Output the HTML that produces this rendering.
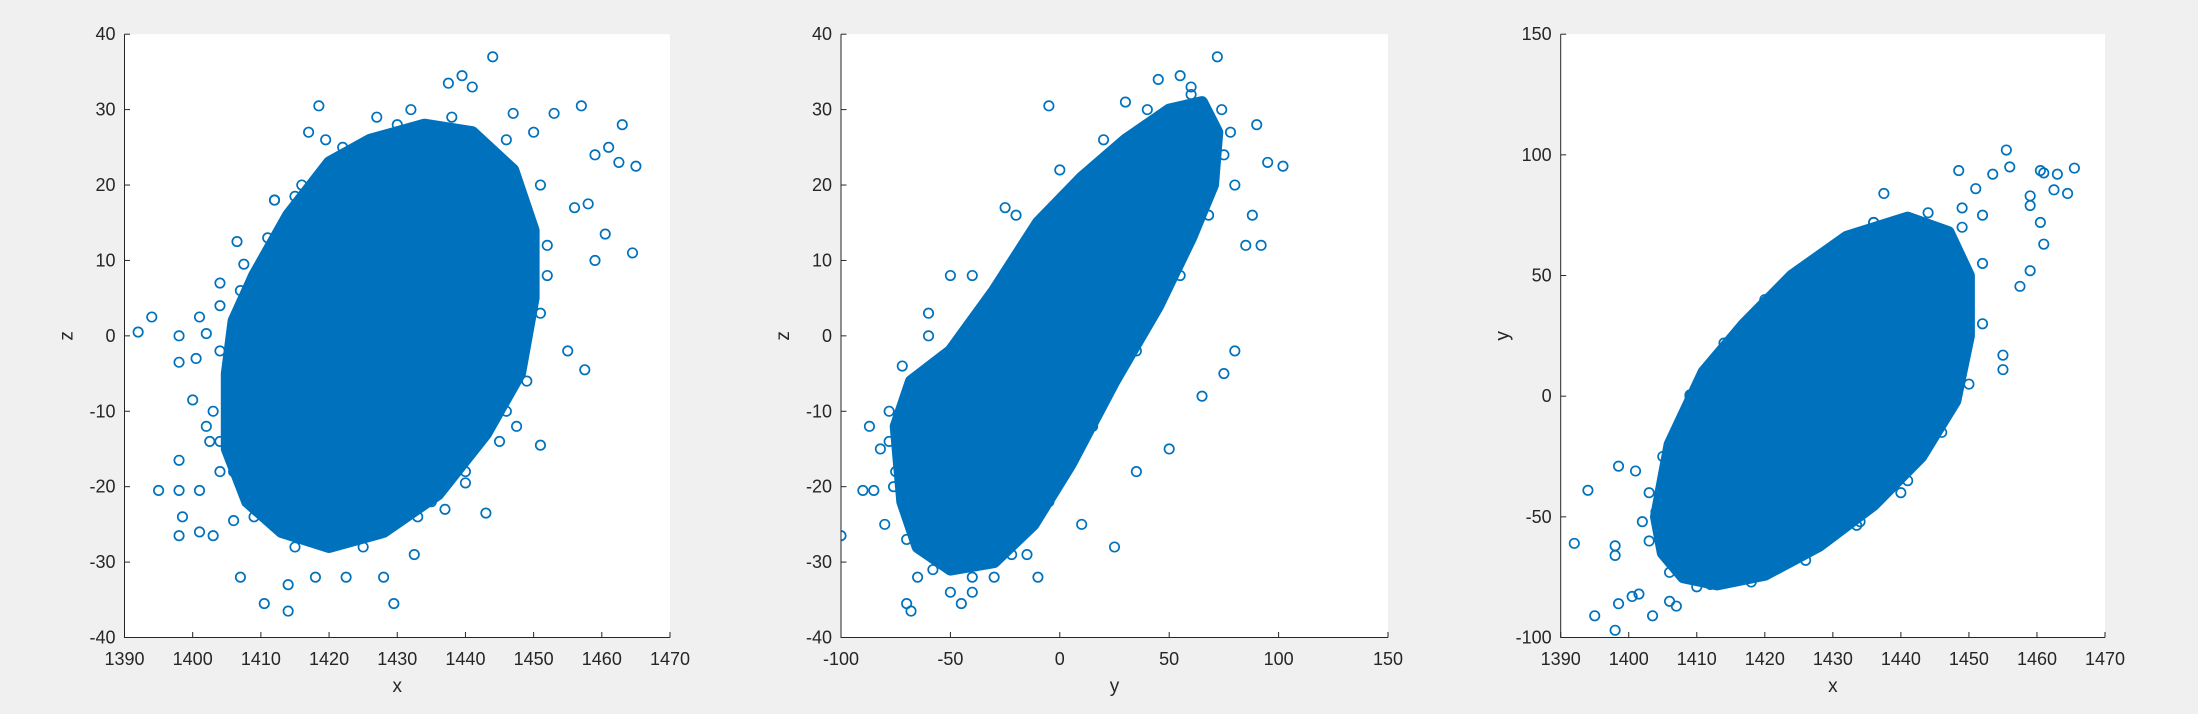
<!DOCTYPE html>
<html><head><meta charset="utf-8"><style>
html,body{margin:0;padding:0;background:#f0f0f0;}
svg{display:block;font-family:"Liberation Sans",sans-serif;}
</style></head><body>
<svg id="fig" width="2198" height="714" viewBox="0 0 2198 714" xmlns="http://www.w3.org/2000/svg">
<rect x="0" y="0" width="2198" height="714" fill="#f0f0f0"/>
</svg>
<script>
// ---- Panel 1: x vs z ----
const p1XTicks = [1390,1400,1410,1420,1430,1440,1450,1460,1470];
const p1YTicks = [-40,-30,-20,-10,0,10,20,30,40];
const p1CoreX = [1405,1405,1408,1413,1420,1428,1436,1443,1448,1450,1450,1447,1441,1434,1426,1420,1414,1409,1406];
const p1CoreY = [-5,-15,-22,-26,-28,-26,-21,-13,-5,5,14,22,27,28,26,23,16,8,2];
const p1X = [1392,1394,1398,1398,1400.5,1401,1402,1398,1395,1398,1401,1403,1407,1410.5,1414,1414,1418,1422.5,1428,1429.5,1432.5,1443,1451,1457.5,1455,1464.5,1459,1460.5,1465,1463,1457,1444,1439.5,1437.5,1441,1418.5,1417,1419.5,1406.5,1404,1407.5,1456,1458,1459,1461,1462.5,1398.5,1398,1401,1402,1400,1402.5,1404,1406,1447.5,1445,1440,1437,1435,1412,1415,1425,1432,1447,1450,1453,1405,1404,
1404,1405,1406,1409,1415,1425,1433,1440,1446,1449,1451,1452,1451,1446,1438,1430,1422,1416,1411,1407,1404,1403,1412,1427,1447,1452];
const p1Y = [0.5,2.5,0,-3.5,-3,2.5,0.3,-16.5,-20.5,-26.5,-26,-26.5,-32,-35.5,-36.5,-33,-32,-32,-32,-35.5,-29,-23.5,-14.5,-4.5,-2,11,10,13.5,22.5,28,30.5,37,34.5,33.5,33,30.5,27,26,12.5,7,9.5,17,17.5,24,25,23,-24,-20.5,-20.5,-12,-8.5,-14,-14,-24.5,-12,-14,-19.5,-23,-22,18,18.5,25.5,30,29.5,27,29.5,-5,-18,
4,-8,-18,-24,-28,-28,-24,-18,-10,-6,3,12,20,26,29,28,25,20,13,6,-2,-10,18,29,16,8];

// ---- Panel 2: y vs z ----
const p2XTicks = [-100,-50,0,50,100,150];
const p2YTicks = [-40,-30,-20,-10,0,10,20,30,40];
const p2CoreX = [-75,-72,-65,-50,-30,-12,5,25,45,60,70,72,65,50,30,10,-10,-30,-50,-68];
const p2CoreY = [-12,-22,-28,-31,-30,-25,-17,-6,4,13,20,27,31,30,26,21,15,6,-2,-6];
const p2X = [-100,-90,-85,-87,-75,-70,-68,-45,-30,-10,-55,72,55,45,90,95,102,92,85,80,75,50,35,-5,-25,-50,-60,25,10,-65,-80,-78,30,60,78,-40,-15,65,88,
-78,-76,-70,-58,-40,-22,-5,15,35,55,68,75,74,60,40,20,0,-20,-40,-60,-72,-82,80,-50];
const p2Y = [-26.5,-20.5,-20.5,-12,-18,-35.5,-36.5,-35.5,-32,-32,-27,37,34.5,34,28,23,22.5,12,12,-2,-5,-15,-18,30.5,17,8,3,-28,-25,-32,-25,-14,31,32,27,-34,-29,-8,16,
-10,-20,-27,-31,-32,-29,-22,-12,-2,8,16,24,30,33,30,26,22,16,8,0,-4,-15,20,-34];

// ---- Panel 3: x vs y ----
const p3XTicks = [1390,1400,1410,1420,1430,1440,1450,1460,1470];
const p3YTicks = [-100,-50,0,50,100,150];
const p3CoreX = [1404,1405,1408,1413,1420,1428,1436,1443,1448,1450,1450,1447,1441,1432,1424,1417,1411,1406];
const p3CoreY = [-50,-65,-75,-78,-74,-62,-45,-25,-2,25,50,68,74,66,50,30,10,-20];
const p3X = [1392,1394,1395,1398,1398.5,1398,1398,1398.5,1401,1400.5,1401.5,1403.5,1406,1407,1409,1409,1424,1433.5,1440,1442,1437.5,1448.5,1455.5,1456,1453.5,1460.5,1461,1463,1465.5,1464.5,1462.5,1459,1459,1460.5,1461,1459,1457.5,1455,1455,1451,1436,1427,1428.5,1420,1417,1402,1404,1449,1452,1447,1430,1412,
1403,1403,1406,1410,1418,1426,1434,1441,1446,1450,1452,1452,1449,1444,1436,1428,1420,1414,1409,1405,1430,1440];
const p3Y = [-61,-39,-91,-97,-86,-66,-62,-29,-31,-83,-82,-91,-85,-87,0.5,-3.5,-65,-53.5,-27,-19,84,93.5,102,95,92,93.5,92.5,92,94.5,84,85.5,83,79,72,63,52,45.5,17,11,86,72,56,55.5,34,20,-52,-48,78,75,5,-44,-78,
-40,-60,-73,-79,-77,-68,-52,-35,-15,5,30,55,70,76,72,58,40,22,0,-25,62,-40];

const NS = "http://www.w3.org/2000/svg";
const svg = document.getElementById('fig');
const BLUE = "#0072BD";
function mk(tag, attrs, parent){const e=document.createElementNS(NS,tag);for(const k in attrs)e.setAttribute(k,attrs[k]);(parent||svg).appendChild(e);return e;}

function panel(id, L, R, T, B, xTicks, yTicks, coreX, coreY, px, py, xLabel, yLabel){
  const xmin=xTicks[0], xmax=xTicks[xTicks.length-1], ymin=yTicks[0], ymax=yTicks[yTicks.length-1];
  const sx=v=>L+(v-xmin)/(xmax-xmin)*(R-L);
  const sy=v=>B-(v-ymin)/(ymax-ymin)*(B-T);
  const g=mk('g',{});
  
  
  const bg=mk('rect',{x:L,y:T,width:R-L,height:B-T,fill:'#fff'},g);
  
  
  const clip=mk('clipPath',{id:id+'clip'},g);
  mk('rect',{x:L,y:T,width:R-L,height:B-T},clip);
  const dg=mk('g',{'clip-path':'url(#'+id+'clip)'},g);
  
  
  const pts=coreX.map((v,i)=>sx(v).toFixed(1)+','+sy(coreY[i]).toFixed(1)).join(' ');
  const core=mk('polygon',{points:pts,fill:BLUE,stroke:BLUE,'stroke-width':12,'stroke-linejoin':'round'},dg);
  
  
  coreX.forEach((v,i)=>{
    const c=mk('circle',{cx:sx(v),cy:sy(coreY[i]),r:4.7,fill:'none',stroke:BLUE,'stroke-width':1.7},dg);
    
    
  });
  px.forEach((v,i)=>{
    const c=mk('circle',{cx:sx(v),cy:sy(py[i]),r:4.7,fill:'none',stroke:BLUE,'stroke-width':1.7},dg);
    
    
  });
  mk('path',{d:`M${L},${T}V${B}H${R}`,fill:'none',stroke:'#262626','stroke-width':1},g);
  xTicks.forEach(t=>{
    const x=sx(t);
    mk('line',{x1:x,x2:x,y1:B,y2:B-5.5,stroke:'#262626','stroke-width':1},g);
    const tx=mk('text',{x:x,y:665,'text-anchor':'middle','font-size':18,fill:'#262626'},g);
    tx.textContent=t;
    
    
  });
  yTicks.forEach(t=>{
    const y=sy(t);
    mk('line',{x1:L,x2:L+5.5,y1:y,y2:y,stroke:'#262626','stroke-width':1},g);
    const tx=mk('text',{x:L-9,y:y+6,'text-anchor':'end','font-size':18,fill:'#262626'},g);
    tx.textContent=t;
    
    
  });
  const xl=mk('text',{x:(L+R)/2,y:692,'text-anchor':'middle','font-size':19,fill:'#262626'},g);
  xl.textContent=xLabel;
  
  
  const yx=L-52, yy=(T+B)/2;
  const yl=mk('text',{x:yx,y:yy,'text-anchor':'middle','font-size':19,fill:'#262626',transform:`rotate(-90 ${yx} ${yy})`},g);
  yl.textContent=yLabel;
  
  
}
panel('xz-plot',124.5,670,34.2,637.5,p1XTicks,p1YTicks,p1CoreX,p1CoreY,p1X,p1Y,'x','z');
panel('yz-plot',841,1388,34.2,637.5,p2XTicks,p2YTicks,p2CoreX,p2CoreY,p2X,p2Y,'y','z');
panel('xy-plot',1560.7,2105,34.2,637.5,p3XTicks,p3YTicks,p3CoreX,p3CoreY,p3X,p3Y,'x','y');
</script>
</body></html>
